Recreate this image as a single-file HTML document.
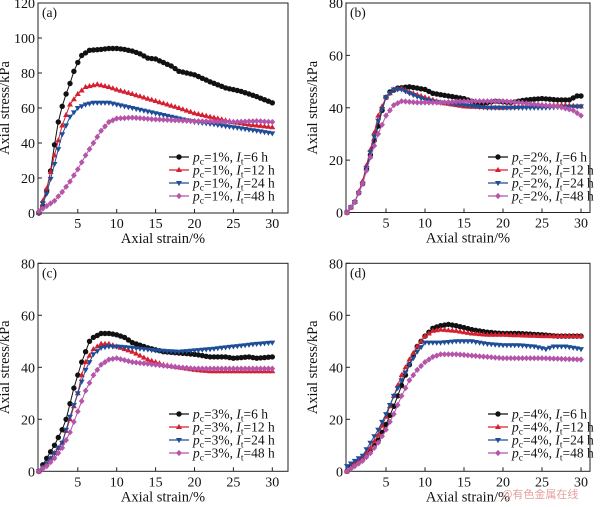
<!DOCTYPE html>
<html><head><meta charset="utf-8"><style>
html,body{margin:0;padding:0;background:#fff;}
svg text{font-family:"Liberation Serif",serif;fill:#111;}
</style></head><body>
<svg id="s" width="600" height="502" xmlns="http://www.w3.org/2000/svg"></svg>
<script>
const S=document.getElementById('s');
let h='';
const cols=['#111','#d42030','#1f4e98','#b455aa'];
const panels=[
{L:38,R:288,T:3,B:213,x0:38.9,xs:7.78,ymax:120,ystep:20,lab:'(a)',pc:'1',lx:169,ly:[157,170,183,196],
 d:[
 [[0,0],[0.5,4],[1,13],[1.5,24],[2,39],[2.5,52],[3,61],[3.5,68],[4,74],[4.5,81],[5,86],[5.5,90],[6.5,93],[8,93.5],[9,94],[10,94],[11,93.5],[12,92.5],[13,91],[14,88.5],[15,88],[16,86],[17,84],[18,81],[20,79],[22,75],[24,71.5],[26,69.5],[28,66.5],[30,63]],
 [[0,0],[1,14],[2,33],[3,50],[4,62],[5,68],[6,72],[7.5,73.5],[9,72],[10,70.5],[12,68],[15,64],[18,60],[20,57],[22,55],[25,52],[27,50.5],[30,49]],
 [[0,0],[1,11],[2,28],[3,45],[4,55],[5,60],[6,62],[7,63],[9,63],[10,62],[12,60],[15,57],[18,54],[20,52],[22,51],[25,49],[28,47],[30,45.5]],
 [[0,1],[1,4],[2,7],[3,12],[4,18],[5,25],[6,33],[7,40],[8,47],[9,52],[10,54],[12,54.5],[15,53.5],[20,52.5],[25,52],[28,52.5],[30,52]]]},
{L:346,R:590,T:3,B:212.5,x0:347,xs:7.8,ymax:80,ystep:20,lab:'(b)',pc:'2',lx:488,ly:[157,170,183,196],
 d:[
 [[0,0],[1,4],[2,11],[3,22],[4,33],[4.5,39],[5,44],[5.5,46],[6.5,47.5],[8,48],[9,47.5],[10,47],[11,45.5],[13,44.5],[15,43.5],[17,41.5],[19,42.5],[21,42],[23,43],[25,43.5],[27,43],[28.5,43],[29.5,44.5],[30,44.5]],
 [[0,0],[1,4],[2,12],[3,24],[4,37],[5,44],[6,47],[7,47.5],[8,46],[10,44],[12,42],[15,40.5],[20,40],[25,41],[28,41],[30,40.5]],
 [[0,0],[1,4],[2,11],[3,23],[4,35],[5,44],[6,47],[7,47],[8,45.5],[10,43],[12,42],[15,41],[18,40],[20,40],[25,40],[30,40.5]],
 [[0,0],[1,4],[2,11],[3,21],[4,30],[5,37],[6,41],[7,42.5],[9,42],[12,42],[15,42.5],[17,42.5],[20,42.5],[22,42],[25,41],[27,40.5],[29,39],[30,37]]]},
{L:38,R:288,T:263.3,B:471.3,x0:38.9,xs:7.78,ymax:80,ystep:20,lab:'(c)',pc:'3',lx:169,ly:[414,427,440,453],
 d:[
 [[0,0],[1,5],[2,10],[3,16],[3.5,20],[4,26],[4.5,32],[5,37],[5.5,42],[6,46],[6.5,50],[7,51.5],[8,53],[9,53],[10,52.5],[11,51.5],[12,49.5],[14,47.5],[16,46],[18,45.5],[20,45],[22,44],[24,44],[25,43.5],[27,44],[28,43.5],[30,44]],
 [[0,0],[1,3],[2,7],[3,11],[4,20],[5,30],[5.5,37],[6,42],[7,47],[8,49],[9,49],[10,48],[12,46],[14,43],[16,41],[18,40],[20,39],[22,38.5],[30,38.5]],
 [[0,0],[1,3],[2,7],[3,11],[4,21],[5,30],[6,39],[7,45],[8,47.5],[9,48],[10,48],[12,47.5],[15,46.5],[18,46],[20,46.5],[22,47],[25,48],[28,49],[30,49.5]],
 [[0,0],[1,2],[2,5],[3,9],[4,15],[5,23],[6,31],[7,37],[8,41],[9,43],[10,43.5],[12,42],[15,41],[18,40],[20,39.5],[30,39.5]]]},
{L:346,R:590,T:263.3,B:471.3,x0:347,xs:7.8,ymax:80,ystep:20,lab:'(d)',pc:'4',lx:488,ly:[414,427,440,453],
 d:[
 [[0,0],[1,3],[2,5],[3,8],[4,12],[5,18],[6,25],[7,33],[8,41],[9,48],[10,52],[11,55],[12,56],[13,56.5],[14,56],[16,54.5],[18,53.5],[20,53],[22,53],[25,52.5],[27,52],[30,52]],
 [[0,0],[1,3],[2,5],[3,9],[4,14],[5,21],[6,29],[7,37],[8,43],[9,48],[10,52],[11,54],[12,54.5],[14,54],[16,53],[18,52.5],[20,52.5],[25,52],[30,52]],
 [[0,2],[1,4],[2,6],[3,11],[4,16],[5,22],[6,29],[7,35],[8,41],[9,46],[10,49.5],[12,49.5],[14,50],[16,50],[18,49],[20,48.5],[22,48.5],[24,48],[25.5,47],[26.5,48],[28,48],[30,47]],
 [[0,0],[1,2],[2,4],[3,7],[4,11],[5,16],[6,22],[7,29],[8,35],[9,39],[10,42],[11,44],[12,45],[14,45],[16,44.5],[18,44],[20,43.5],[25,43.5],[30,43]]]}
];
const its=['6','12','24','48'];
function interp(pts,x){for(let i=1;i<pts.length;i++){if(x<=pts[i][0]){const a=pts[i-1],b=pts[i];return a[1]+(b[1]-a[1])*(x-a[0])/(b[0]-a[0]);}}return pts[pts.length-1][1];}
function mk(k,x,y){const c=cols[k];const r=2.7;
 if(k==0)return `<circle cx="${x}" cy="${y}" r="${r}" fill="${c}"/>`;
 if(k==1)return `<polygon points="${x},${y-3.1} ${x-3},${y+2} ${x+3},${y+2}" fill="${c}"/>`;
 if(k==2)return `<polygon points="${x},${y+3.1} ${x-3},${y-2} ${x+3},${y-2}" fill="${c}"/>`;
 return `<polygon points="${x},${y-3.1} ${x+2.9},${y} ${x},${y+3.1} ${x-2.9},${y}" fill="${c}"/>`;}
panels.forEach(p=>{
 const ys=(p.B-p.T)/p.ymax;
 const X=v=>p.x0+v*p.xs, Y=v=>p.B-v*ys;
 h+=`<rect x="${p.L}" y="${p.T}" width="${p.R-p.L}" height="${p.B-p.T}" fill="none" stroke="#222" stroke-width="1"/>`;
 for(let v=5;v<=30;v+=5){const x=X(v);h+=`<line x1="${x}" y1="${p.B}" x2="${x}" y2="${p.B-4}" stroke="#222"/><text x="${x}" y="${p.B+15}" font-size="14" text-anchor="middle">${v}</text>`;}
 for(let v=0;v<=p.ymax;v+=p.ystep){const y=Y(v);h+=`<line x1="${p.L}" y1="${y}" x2="${p.L+4}" y2="${y}" stroke="#222"/><text x="${p.L-3}" y="${y+5}" font-size="14" text-anchor="end">${v}</text>`;}
 h+=`<text x="${(p.L+p.R)/2}" y="${p.B+30}" font-size="14.5" text-anchor="middle">Axial strain/%</text>`;
 const cy=(p.T+p.B)/2, lxx=p.L-29;
 h+=`<text transform="translate(${lxx},${cy}) rotate(-90)" font-size="14.5" text-anchor="middle">Axial stress/kPa</text>`;
 h+=`<text x="${p.L+4}" y="${p.T+14}" font-size="13.5">${p.lab}</text>`;
 p.d.forEach((pts,k)=>{
  let pth='',m='';
  for(let x=0;x<=30.001;x+=0.5){const px=X(x).toFixed(1),py=Y(interp(pts,x)).toFixed(1);pth+=(x==0?'M':'L')+px+','+py;m+=mk(k,+px,+py);}
  h+=`<path d="${pth}" fill="none" stroke="${cols[k]}" stroke-width="1"/>`+m;
  const ly=p.ly[k];
  h+=`<line x1="${p.lx}" y1="${ly}" x2="${p.lx+20}" y2="${ly}" stroke="${cols[k]}" stroke-width="1.2"/>`+mk(k,p.lx+10,ly);
  h+=`<text x="${p.lx+24}" y="${ly+4.5}" font-size="13.5"><tspan font-style="italic">p</tspan><tspan font-size="9.5" dy="3">c</tspan><tspan dy="-3">=${p.pc}%, </tspan><tspan font-style="italic">I</tspan><tspan font-size="9.5" dy="3">t</tspan><tspan dy="-3">=${its[k]} h</tspan></text>`;
 });
});
h+=`<text x="502" y="498" font-size="11" style="fill:#e6a0a0;font-family:'Noto Sans CJK SC',sans-serif">@有色金属在线</text>`;
S.innerHTML=h;
</script>
</body></html>
